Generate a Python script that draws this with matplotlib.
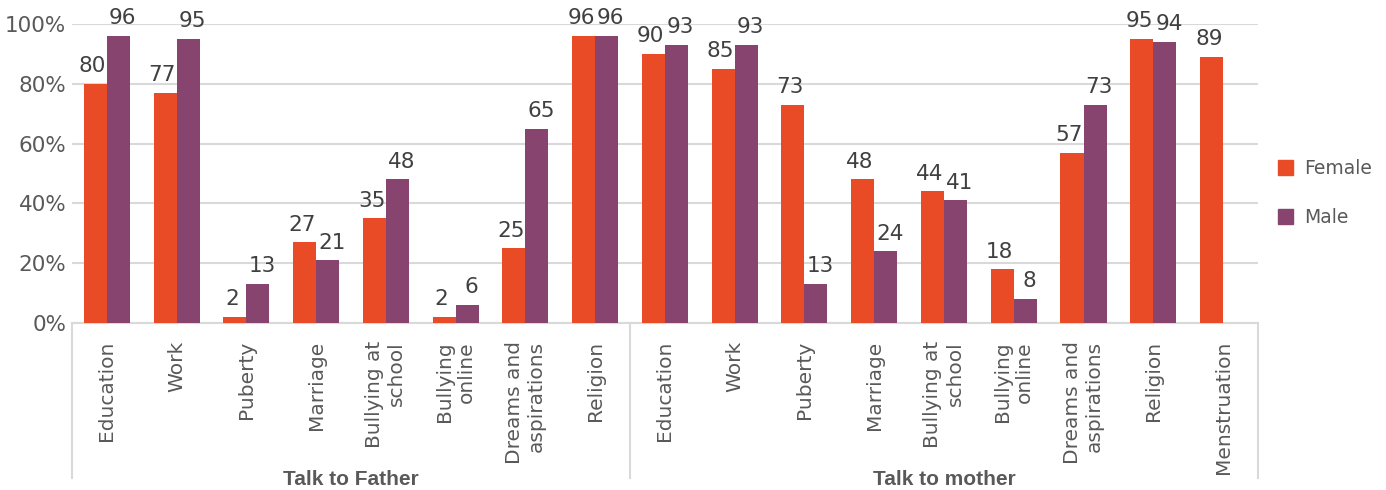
import matplotlib
matplotlib.use("Agg")
import matplotlib.pyplot as plt
from matplotlib.patches import Patch
import numpy as np

groups = ["Talk to Father", "Talk to mother"]
father_topics = ["Education", "Work", "Puberty", "Marriage", "Bullying at\nschool",
                 "Bullying\nonline", "Dreams and\naspirations", "Religion"]
mother_topics = ["Education", "Work", "Puberty", "Marriage", "Bullying at\nschool",
                 "Bullying\nonline", "Dreams and\naspirations", "Religion", "Menstruation"]

father_female = [80, 77, 2, 27, 35, 2, 25, 96]
father_male = [96, 95, 13, 21, 48, 6, 65, 96]
mother_female = [90, 85, 73, 48, 44, 18, 57, 95, 89]
mother_male = [93, 93, 13, 24, 41, 8, 73, 94, None]

ORANGE = "#E84B26"
PURPLE = "#87446F"
TEXT = "#595959"
GRID = "#D9D9D9"


def plot():
    categories = father_topics + mother_topics
    female = father_female + mother_female
    male = [np.nan if v is None else v for v in father_male + mother_male]
    x = np.arange(len(categories))
    w = 0.33

    fig = plt.figure(figsize=(13.86, 4.9), dpi=100)
    ax = fig.add_axes([0.0519, 0.3408, 0.8557, 0.6102])

    ax.bar(x - w / 2, female, w, color=ORANGE, zorder=3, label="Female")
    ax.bar(x + w / 2, male, w, color=PURPLE, zorder=3, label="Male")

    # value labels, nudged apart a little like the original
    for xi, v in zip(x, female):
        ax.annotate(f"{v:g}", (xi - w / 2, v), xytext=(-2, 5.5), textcoords="offset points",
                    ha="center", va="bottom", fontsize=15.5, color="#404040")
    for xi, v in zip(x, male):
        if np.isnan(v):
            continue
        ax.annotate(f"{v:g}", (xi + w / 2, v), xytext=(3, 5.5), textcoords="offset points",
                    ha="center", va="bottom", fontsize=15.5, color="#404040")

    ax.set_xlim(-0.5, len(categories) - 0.5)
    ax.set_ylim(0, 100)
    ax.set_yticks(range(0, 101, 20))
    ax.set_yticklabels([f"{t}%" for t in range(0, 101, 20)], fontsize=15.5, color=TEXT)
    ax.yaxis.grid(True, color=GRID, lw=1.5, zorder=0)
    ax.tick_params(axis="y", length=0, pad=4)

    ax.set_xticks(x)
    ax.set_xticklabels(categories, rotation=90, va="top", ha="center",
                       multialignment="right", fontsize=14.5, color=TEXT)
    ax.tick_params(axis="x", length=0, pad=13)

    for s in ["top", "right", "left"]:
        ax.spines[s].set_visible(False)
    ax.spines["bottom"].set_color(GRID)
    ax.spines["bottom"].set_linewidth(1.5)

    # group separators under the axis
    trans = ax.get_xaxis_transform()
    for sx in [-0.5, len(father_topics) - 0.5, len(categories) - 0.5]:
        ax.plot([sx, sx], [0, -0.518], transform=trans, color=GRID, lw=1.5, clip_on=False)

    n_f = len(father_topics)
    centers = [(n_f - 1) / 2, n_f + (len(mother_topics) - 1) / 2]
    for c, g in zip(centers, groups):
        ax.text(c, -0.525, g, transform=trans, ha="center", va="center",
                fontsize=15, fontweight="bold", color=TEXT, family="Liberation Sans")

    handles = [Patch(color=ORANGE, label="Female"), Patch(color=PURPLE, label="Male")]
    fig.legend(handles=handles, loc="center left", bbox_to_anchor=(0.91, 1 - 193 / 490),
               frameon=False, fontsize=13.5, handlelength=0.8, handleheight=0.8,
               labelspacing=1.6, handletextpad=0.6, labelcolor=TEXT)

    fig.savefig("out.png", dpi=100)


if __name__ == "__main__":
    plot()
